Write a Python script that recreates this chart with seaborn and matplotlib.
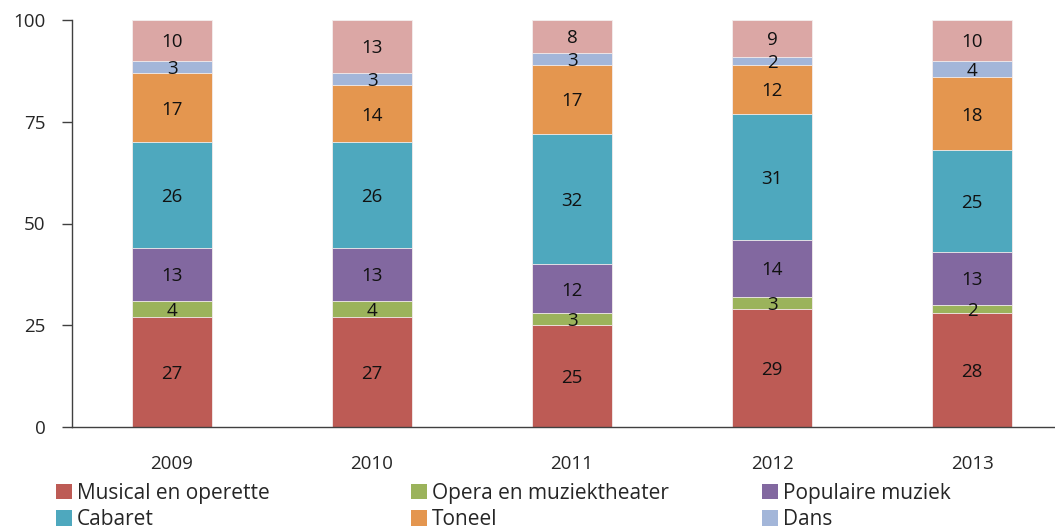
import numpy as np
import pandas as pd
import matplotlib
matplotlib.use("Agg")
import matplotlib.pyplot as plt
import seaborn as sns
from matplotlib.patches import Patch

years = ["2009", "2010", "2011", "2012", "2013"]
categories = ["Musical en operette", "Opera en muziektheater", "Populaire muziek",
              "Cabaret", "Toneel", "Dans", "Overig"]
musical = [27, 27, 25, 29, 28]
opera = [4, 4, 3, 3, 2]
populair = [13, 13, 12, 14, 13]
cabaret = [26, 26, 32, 31, 25]
toneel = [17, 14, 17, 12, 18]
dans = [3, 3, 3, 2, 4]
overig = [10, 13, 8, 9, 10]
series = [musical, opera, populair, cabaret, toneel, dans, overig]
colors = ["#BD5B55", "#9BB35B", "#8268A0", "#4EA8BE", "#E4964F", "#A3B6D9", "#DBA7A5"]
yticks = [0, 25, 50, 75, 100]

sns.set_theme(style="white")
plt.rcParams["font.family"] = ["Open Sans", "DejaVu Sans"]

fig = plt.figure(figsize=(10.55, 5.29), dpi=100)
W, H = 1055, 529
x0, x1 = 72, 1072
ytop, ybot = 20, 427
ax = fig.add_axes([x0 / W, 1 - ybot / H, (x1 - x0) / W, (ybot - ytop) / H])

vals = np.array(series, dtype=float)
cum = np.cumsum(vals, axis=0)
# draw from the top layer downward so each shorter cumulative bar sits in front
for i in range(len(categories) - 1, -1, -1):
    df = pd.DataFrame({"year": years, "value": cum[i]})
    sns.barplot(data=df, x="year", y="value", color=colors[i], width=0.4,
                ax=ax, saturation=1, edgecolor="#F4EEEE", linewidth=0.6)

for i in range(len(categories)):
    for j in range(len(years)):
        v = float(vals[i, j])
        b = float(cum[i, j] - v)
        ax.text(j, b + v / 2 - 0.5, f"{int(v)}", ha="center",
                va="center", fontsize=13.5, color="#111111")

ax.set_ylim(0, 100)
ax.set_xlim(-0.5, 4.5)
ax.set_yticks(yticks)
ax.set_yticklabels([str(t) for t in yticks], fontsize=13.5)
ax.set_xlabel("")
ax.set_ylabel("")
ax.tick_params(axis="y", which="both", left=True, length=7, width=1, color="#404040", pad=12)
ax.tick_params(axis="x", bottom=False, labelsize=13.5, pad=14)
for s in ["top", "right"]:
    ax.spines[s].set_visible(False)
for s in ["left", "bottom"]:
    ax.spines[s].set_color("#404040")
    ax.spines[s].set_linewidth(1)

# legend laid out row-wise in three fixed columns
col_x = [56, 411, 762]
for c in range(3):
    idx = [c, c + 3]
    handles = [Patch(facecolor=colors[i], edgecolor="none") for i in idx]
    fig.legend(handles, [categories[i] for i in idx], loc="upper left",
               bbox_to_anchor=(col_x[c] / W, 1 - 483 / H), frameon=False,
               fontsize=15, handlelength=0.75, handleheight=0.75,
               handletextpad=0.25, labelspacing=0.25, borderaxespad=0,
               borderpad=0)

fig.savefig("out.png", dpi=100)
